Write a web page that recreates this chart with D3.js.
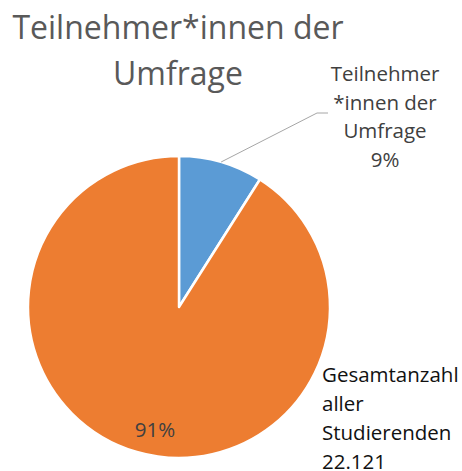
<!DOCTYPE html>
<html>
<head>
<meta charset="utf-8">
<script src="https://cdn.jsdelivr.net/npm/d3@7"></script>
<style>
  body { margin: 0; background: #fff; }
  text { font-family: "Open Sans", Lato, sans-serif; }
</style>
</head>
<body>
<div id="chart"></div>
<script>
/* DATA */
const categories = ["Teilnehmer*innen der Umfrage", "Gesamtanzahl aller Studierenden 22.121"];
const shares = [9, 91];
const colors = ["#5B9BD5", "#ED7D31"];
const titleLines = ["Teilnehmer*innen der", "Umfrage"];
const labelLines = [
  ["Teilnehmer", "*innen der", "Umfrage", "9%"],
  ["Gesamtanzahl", "aller", "Studierenden", "22.121"]
];

const width = 462, height = 471;
const cx = 179, cy = 307, radius = 151;

const svg = d3.select("#chart").append("svg")
  .attr("width", width)
  .attr("height", height);

// title
svg.append("g").selectAll("text")
  .data(titleLines)
  .join("text")
  .attr("x", 178)
  .attr("y", (d, i) => 39 + i * 46)
  .attr("text-anchor", "middle")
  .attr("fill", "#595959")
  .style("font-size", "32px")
  .text(d => d);

const data = categories.map((c, i) => ({ name: c, value: shares[i], color: colors[i] }));

const pie = d3.pie().sort(null).value(d => d.value);
const arc = d3.arc().innerRadius(0).outerRadius(radius);
const arcs = pie(data);

const g = svg.append("g").attr("transform", `translate(${cx},${cy})`);

g.selectAll("path")
  .data(arcs)
  .join("path")
  .attr("d", arc)
  .attr("fill", d => d.data.color)
  .attr("stroke", "#fff")
  .attr("stroke-width", 2.5)
  .attr("stroke-linejoin", "round");

// leader line for the small slice
const a0 = (arcs[0].startAngle + arcs[0].endAngle) / 2;
const p0 = [Math.sin(a0) * radius, -Math.cos(a0) * radius];
g.append("polyline")
  .attr("points", [p0, [138, -194], [149, -194]].map(p => p.join(",")).join(" "))
  .attr("fill", "none")
  .attr("stroke", "#A6A6A6")
  .attr("stroke-width", 1);

// label of small slice (centered block)
svg.append("g").selectAll("text")
  .data(labelLines[0])
  .join("text")
  .attr("x", 385)
  .attr("y", (d, i) => 81 + i * 28.7)
  .attr("text-anchor", "middle")
  .attr("fill", "#404040")
  .style("font-size", "20.5px")
  .text(d => d);

// label of big slice (left aligned, outside)
svg.append("g").selectAll("text")
  .data(labelLines[1])
  .join("text")
  .attr("x", 322)
  .attr("y", (d, i) => 382 + i * 29)
  .attr("fill", "#111")
  .style("font-size", "20.5px")
  .text(d => d);

// percent inside big slice
svg.append("text")
  .attr("x", 155)
  .attr("y", 437)
  .attr("text-anchor", "middle")
  .attr("fill", "#404040")
  .style("font-size", "20.5px")
  .text(shares[1] + "%");
</script>
</body>
</html>
